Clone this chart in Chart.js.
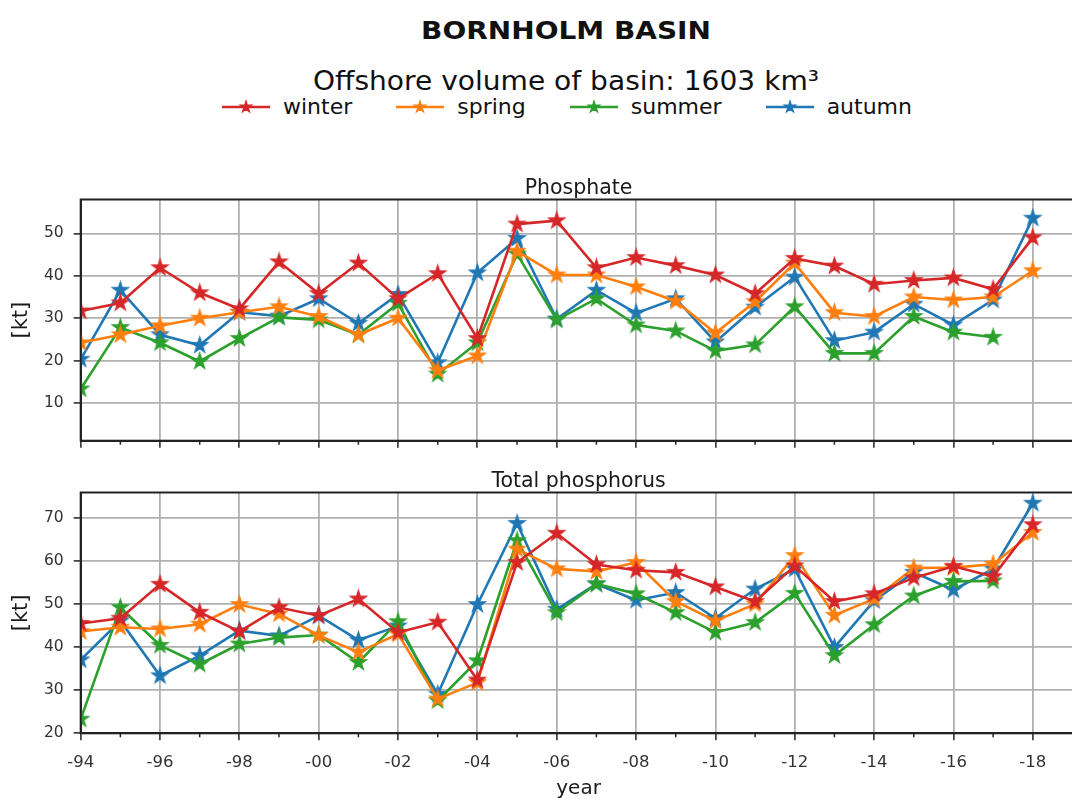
<!DOCTYPE html>
<html>
<head>
<meta charset="utf-8">
<title>Bornholm Basin</title>
<script src="https://cdn.jsdelivr.net/npm/chart.js@4.4.0/dist/chart.umd.min.js"></script>
<style>
  html, body { margin: 0; padding: 0; background: #fff; }
  body { width: 1072px; height: 799px; overflow: hidden; position: relative; font-family: "DejaVu Sans", sans-serif; color: #111; }
  .title { position: absolute; top: 18px; left: 566px; transform: translateX(-50%) scaleX(1.12); font-size: 25px; line-height: 25px; font-weight: bold; white-space: nowrap; }
  .subtitle { position: absolute; top: 68px; left: 566px; transform: translateX(-50%) scaleX(1.08); font-size: 26px; line-height: 26px; white-space: nowrap; }
  #legend { position: absolute; left: 222px; top: 96px; display: flex; gap: 44px; font-size: 22px; line-height: 22px; white-space: nowrap; }
  #legend .item { display: flex; align-items: center; gap: 13px; }
  #legend canvas { position: static; }
  canvas { position: absolute; left: 0; }
  #phosphate { top: 160px; }
  #totalp { top: 460px; }
</style>
</head>
<body>
<div class="title">BORNHOLM BASIN</div>
<div class="subtitle">Offshore volume of basin: 1603 km³</div>
<div id="legend"></div>
<canvas id="phosphate" width="1087" height="300"></canvas>
<canvas id="totalp" width="1087" height="339"></canvas>
<script>
const years = [1994, 1995, 1996, 1997, 1998, 1999, 2000, 2001, 2002, 2003, 2004, 2005, 2006,
               2007, 2008, 2009, 2010, 2011, 2012, 2013, 2014, 2015, 2016, 2017, 2018];
const xTickYears = [1994, 1996, 1998, 2000, 2002, 2004, 2006, 2008, 2010, 2012, 2014, 2016, 2018];
const xTickLabels = ['-94', '-96', '-98', '-00', '-02', '-04', '-06', '-08', '-10', '-12', '-14', '-16', '-18'];

const seasons = ['winter', 'spring', 'summer', 'autumn'];
const seasonColors = ['#d62728', '#ff7f0e', '#2ca02c', '#1f77b4'];

// Phosphate, kt
const phosTicks = [10, 20, 30, 40, 50];
const phosWinter = [31.7, 33.6, 41.9, 36.0, 32.2, 43.3, 35.8, 43.0, 34.6, 40.5, 25.2, 52.2, 53.0,
                    41.9, 44.3, 42.4, 40.2, 35.8, 44.1, 42.3, 38.0, 38.9, 39.5, 36.8, 49.0];
const phosSpring = [24.2, 26.1, 28.2, 30.0, 31.4, 32.7, 30.4, 26.1, 30.0, 17.7, 21.1, 45.8, 40.2,
                    40.2, 37.4, 34.0, 26.5, 33.9, 43.0, 31.3, 30.4, 35.0, 34.3, 35.0, 41.2];
const phosSummer = [13.3, 27.8, 24.2, 19.8, 25.2, 30.2, 29.6, 26.1, 33.5, 16.8, 24.2, 45.1, 29.6,
                    34.6, 28.4, 27.0, 22.3, 23.7, 32.7, 21.7, 21.7, 30.4, 26.7, 25.5, null];
const phosAutumn = [20.3, 36.6, 26.1, 23.6, 31.4, 30.5, 34.6, 28.8, 35.6, 19.5, 40.7, 48.8, 29.8,
                    36.6, 31.2, 34.6, 24.4, 32.6, 39.7, 24.7, 26.7, 33.3, 28.4, 34.3, 53.6];

// Total phosphorus, kt
const totpTicks = [20, 30, 40, 50, 60, 70];
const totpWinter = [45.5, 46.7, 54.6, 48.1, 43.6, 49.2, 47.3, 51.2, 43.4, 45.8, 32.3, 59.7, 66.5,
                    59.2, 57.9, 57.4, 54.0, 50.6, 58.9, 50.6, 52.4, 56.1, 58.8, 56.4, 68.5];
const totpSpring = [43.6, 44.6, 44.2, 45.3, 49.9, 47.7, 42.7, 38.8, 43.0, 27.9, 31.7, 62.8, 58.2,
                    57.6, 59.7, 50.6, 46.1, 50.0, 61.3, 47.4, 51.2, 58.4, 58.5, 59.3, 66.7];
const totpSummer = [23.2, 49.2, 40.4, 36.0, 40.7, 42.2, 42.8, 36.4, 45.9, 27.5, 36.8, 64.8, 48.0,
                    54.7, 52.4, 48.0, 43.4, 45.7, 52.5, 38.0, 45.2, 51.9, 55.3, 55.4, null];
const totpAutumn = [37.0, 46.1, 33.3, 38.0, 43.8, 42.6, 47.3, 41.6, 44.9, 29.0, 49.9, 68.8, 48.8,
                    54.7, 50.9, 52.7, 46.7, 53.5, 58.2, 39.9, 50.8, 57.4, 53.3, 58.2, 73.5];

const FONT = '"DejaVu Sans", sans-serif';
const GRID = '#b0b0b0';
const INK = '#222';

// filled five-pointed star, like matplotlib's '*' marker
function drawStar(g, cx, cy, r, color) {
  g.beginPath();
  for (let i = 0; i < 10; i++) {
    const rad = i % 2 === 0 ? r : r * 0.382;
    const a = -Math.PI / 2 + i * Math.PI / 5;
    const px = cx + rad * Math.cos(a), py = cy + rad * Math.sin(a);
    if (i === 0) g.moveTo(px, py); else g.lineTo(px, py);
  }
  g.closePath();
  g.fillStyle = color;
  g.fill();
  g.lineWidth = 1.2;
  g.strokeStyle = color;
  g.stroke();
}

function starMarker(color, r) {
  const size = Math.ceil(r * 2 + 4);
  const c = document.createElement('canvas');
  c.width = size; c.height = size;
  drawStar(c.getContext('2d'), size / 2, size / 2, r, color);
  return c;
}

// legend: line + star, then the season name
const legendEl = document.getElementById('legend');
seasons.forEach((name, i) => {
  const item = document.createElement('div');
  item.className = 'item';
  const icon = document.createElement('canvas');
  icon.width = 48; icon.height = 16;
  const g = icon.getContext('2d');
  g.strokeStyle = seasonColors[i];
  g.lineWidth = 2.6;
  g.beginPath(); g.moveTo(0, 8); g.lineTo(48, 8); g.stroke();
  drawStar(g, 24, 8, 6, seasonColors[i]);
  const label = document.createElement('span');
  label.textContent = name;
  item.appendChild(icon);
  item.appendChild(label);
  legendEl.appendChild(item);
});

// top/right spines, minor x ticks and the panel title
const framePlugin = {
  id: 'frame',
  afterDraw(chart, args, opts) {
    const { ctx, chartArea: a } = chart;
    const x = chart.scales.x;
    ctx.save();
    ctx.strokeStyle = INK;
    ctx.lineWidth = 1.5;
    years.filter(y => !xTickYears.includes(y)).forEach(y => {
      const px = x.getPixelForValue(y);
      ctx.beginPath(); ctx.moveTo(px, a.bottom); ctx.lineTo(px, a.bottom + 4); ctx.stroke();
    });
    ctx.lineWidth = 2;
    ctx.strokeRect(a.left, a.top, a.right - a.left, a.bottom - a.top);
    ctx.fillStyle = '#1a1a1a';
    ctx.font = '20.5px ' + FONT;
    ctx.textAlign = 'center';
    ctx.textBaseline = 'alphabetic';
    ctx.fillText(opts.text, (a.left + a.right) / 2, a.top - 5.5);
    ctx.restore();
  }
};

function makeChart(id, title, series, yMin, yMax, yTicks, showLabels, padTop, xHeight) {
  const datasets = series.map((vals, i) => ({
    label: seasons[i],
    data: vals.map((v, k) => ({ x: years[k], y: v })),
    borderColor: seasonColors[i],
    backgroundColor: seasonColors[i],
    borderWidth: 2.6,
    pointStyle: starMarker(seasonColors[i], 8.5),
    pointRadius: 8,
    tension: 0
  }));

  return new Chart(document.getElementById(id), {
    type: 'line',
    data: { datasets },
    plugins: [framePlugin],
    options: {
      responsive: false,
      animation: false,
      events: [],
      layout: { padding: { top: padTop, left: 0, right: 0, bottom: 0 } },
      plugins: {
        legend: { display: false },
        tooltip: { enabled: false },
        frame: { text: title }
      },
      scales: {
        x: {
          type: 'linear',
          min: 1994,
          max: 2019.1,
          afterBuildTicks: (scale) => { scale.ticks = years.map(v => ({ value: v })); },
          afterFit: (scale) => { scale.height = xHeight; },
          grid: {
            color: (c) => xTickYears.includes(c.tick.value) ? GRID : 'rgba(0,0,0,0)',
            tickColor: (c) => xTickYears.includes(c.tick.value) ? INK : 'rgba(0,0,0,0)',
            lineWidth: 1.8,
            tickLength: 7,
            tickWidth: 1.5
          },
          border: { display: true, color: INK, width: 2 },
          ticks: {
            autoSkip: false,
            maxRotation: 0,
            padding: 13,
            color: '#333',
            font: { family: FONT, size: 16.5 },
            callback: (v) => {
              if (!showLabels) return '';
              const idx = xTickYears.indexOf(v);
              return idx >= 0 ? xTickLabels[idx] : '';
            }
          },
          title: {
            display: showLabels,
            text: 'year',
            color: '#1a1a1a',
            font: { family: FONT, size: 20, lineHeight: 1 },
            padding: { top: 0, bottom: 0 }
          }
        },
        y: {
          min: yMin,
          max: yMax,
          afterBuildTicks: (scale) => { scale.ticks = yTicks.map(v => ({ value: v })); },
          afterFit: (scale) => { scale.width = 80.7; },
          grid: { color: GRID, lineWidth: 1.8, tickColor: INK, tickLength: 7, tickWidth: 1.5 },
          border: { display: true, color: INK, width: 2 },
          ticks: {
            padding: 10,
            color: '#333',
            font: { family: FONT, size: 15.5 }
          },
          title: {
            display: true,
            text: '[kt]',
            color: '#1a1a1a',
            font: { family: FONT, size: 21, lineHeight: 1.2 },
            padding: { top: 9.4, bottom: 0 }
          }
        }
      }
    }
  });
}

makeChart('phosphate', 'Phosphate',
  [phosWinter, phosSpring, phosSummer, phosAutumn],
  1.1, 58, phosTicks, false, 39.5, 15.7);

makeChart('totalp', 'Total phosphorus',
  [totpWinter, totpSpring, totpSummer, totpAutumn],
  19.9, 76, totpTicks, true, 32.5, 65.7);
</script>
</body>
</html>
